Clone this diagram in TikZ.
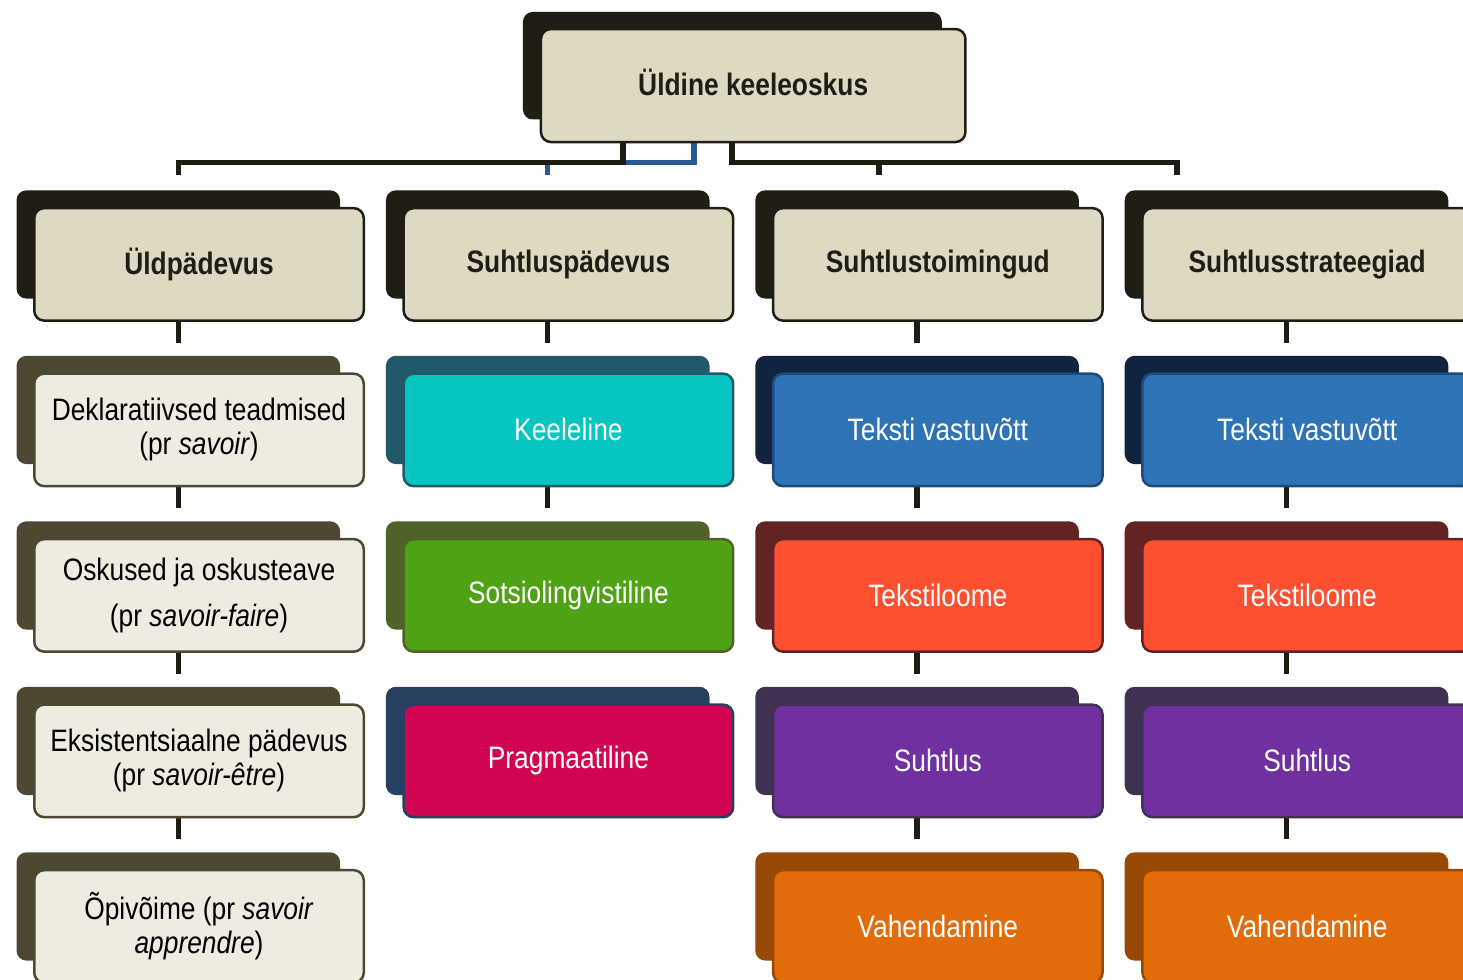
\documentclass[tikz,border=0pt]{standalone}
\usepackage{fontspec}
\setmainfont[FakeStretch=0.85]{Liberation Sans}
\usetikzlibrary{backgrounds}
\definecolor{hdrF}{HTML}{DDD9C3}
\definecolor{hdrS}{HTML}{201E14}
\definecolor{genF}{HTML}{EEECE1}
\definecolor{genS}{HTML}{4E4731}
\definecolor{kelF}{HTML}{05C6C1}
\definecolor{kelS}{HTML}{215968}
\definecolor{sotF}{HTML}{50A215}
\definecolor{sotS}{HTML}{4F6228}
\definecolor{praF}{HTML}{D20553}
\definecolor{praS}{HTML}{27405F}
\definecolor{tvF}{HTML}{2E73B5}
\definecolor{tvS}{HTML}{10243F}
\definecolor{tvB}{HTML}{1D4A7A}
\definecolor{tlF}{HTML}{FE5030}
\definecolor{tlS}{HTML}{622423}
\definecolor{suF}{HTML}{7030A0}
\definecolor{suS}{HTML}{3F3151}
\definecolor{vaF}{HTML}{E26B0A}
\definecolor{vaS}{HTML}{984807}
\definecolor{lineC}{HTML}{1E1C12}
\definecolor{lineB}{HTML}{2A5A96}
\tikzset{
  frontbox/.style={rectangle, rounded corners=10pt, line width=2.5pt,
    minimum width=329.5pt, minimum height=112.5pt, align=center, inner sep=2pt,
    font=\fontsize{31}{34}\selectfont},
  shadowbox/.style={rectangle, rounded corners=10pt, draw=none,
    minimum width=323.6pt, minimum height=108.3pt, inner sep=0pt},
  hdr/.style={fill=hdrF, draw=hdrS, text=hdrS, font=\fontsize{31}{34}\selectfont\bfseries},
  hdrsh/.style={fill=hdrS},
  gen/.style={fill=genF, draw=genS, text=black},
  gensh/.style={fill=genS},
  kel/.style={fill=kelF, draw=kelS, text=white},
  kelsh/.style={fill=kelS},
  sot/.style={fill=sotF, draw=sotS, text=white},
  sotsh/.style={fill=sotS},
  pra/.style={fill=praF, draw=praS, text=white},
  prash/.style={fill=praS},
  tv/.style={fill=tvF, draw=tvB, text=white},
  tvsh/.style={fill=tvS},
  tl/.style={fill=tlF, draw=tlS, text=white},
  tlsh/.style={fill=tlS},
  su/.style={fill=suF, draw=suS, text=white},
  sush/.style={fill=suS},
  va/.style={fill=vaF, draw=vaS, text=white},
  vash/.style={fill=vaS},
  conn/.style={draw=lineC, line width=5.5pt},
  connb/.style={draw=lineB, line width=5.5pt},
}
\newcommand\mybox[5]{%
  \node[shadowbox, #4sh, anchor=north west] (s#1) at (#2-16, #3-16.6) {};
  \node[frontbox, #4, anchor=north west] (f#1) at (#2+0.7, #3+0.2) {#5};
}
\begin{document}
\begin{tikzpicture}[x=1pt, y=-1pt]
\useasboundingbox (0,0) rectangle (1463,979);
% top
\node[shadowbox, hdrsh, minimum width=419pt, minimum height=107.6pt, anchor=north west] (stop) at (522.7,11.7) {};
\node[frontbox, hdr, minimum width=424.5pt, minimum height=113pt, text depth=6pt, anchor=north west] (top) at (539.7,27.8) {Üldine keeleoskus};
% headers
\mybox{10}{32.3}{206.7}{hdr}{Üldpädevus}
\mybox{20}{401.7}{206.7}{hdr}{Suhtluspädevus}
\mybox{30}{771.1}{206.7}{hdr}{Suhtlustoimingud}
\mybox{40}{1140.5}{206.7}{hdr}{Suhtlusstrateegiad}
% column 1
\mybox{11}{32.3}{372.2}{gen}{Deklaratiivsed teadmised\\(pr \textit{savoir})}
\mybox{12}{32.3}{537.7}{gen}{Oskused ja oskusteave\\[12pt](pr \textit{savoir-faire})}
\mybox{13}{32.3}{703.2}{gen}{Eksistentsiaalne pädevus\\(pr \textit{savoir-être})}
\mybox{14}{32.3}{868.7}{gen}{Õpivõime (pr \textit{savoir}\\\textit{apprendre})}
% column 2
\mybox{21}{401.7}{372.2}{kel}{Keeleline}
\mybox{22}{401.7}{537.7}{sot}{Sotsiolingvistiline}
\mybox{23}{401.7}{703.2}{pra}{Pragmaatiline}
% column 3
\mybox{31}{771.1}{372.2}{tv}{Teksti vastuvõtt}
\mybox{32}{771.1}{537.7}{tl}{Tekstiloome}
\mybox{33}{771.1}{703.2}{su}{Suhtlus}
\mybox{34}{771.1}{868.7}{va}{Vahendamine}
% column 4
\mybox{41}{1140.5}{372.2}{tv}{Teksti vastuvõtt}
\mybox{42}{1140.5}{537.7}{tl}{Tekstiloome}
\mybox{43}{1140.5}{703.2}{su}{Suhtlus}
\mybox{44}{1140.5}{868.7}{va}{Vahendamine}
% connectors
\begin{scope}[on background layer]
\coordinate (bB) at (694,162.5);
\coordinate (bL) at (623,162.5);
\coordinate (bR) at (732,162.5);
\coordinate (tM) at (879,175);
\coordinate (tR) at (1177,175);
\draw[connb, shorten >=15pt] (top.south -| bB) -- (bB) -| (s20.north);
\draw[conn, shorten >=15pt] (top.south -| bL) -- (bL) -| (s10.north);
\draw[conn] (top.south -| bR) -- (bR) -| (tR);
\draw[conn] (tM |- bR) -- (tM);
\foreach \c/\r/\n in {1/0/1,1/1/2,1/2/3,1/3/4,2/0/1,2/1/2,3/0/1,3/1/2,3/2/3,3/3/4,4/0/1,4/1/2,4/2/3,4/3/4}{
  \draw[conn, shorten >=13pt] (f\c\r.south -| s\c\n.north) -- (s\c\n.north);
}
\end{scope}
\end{tikzpicture}
\end{document}
